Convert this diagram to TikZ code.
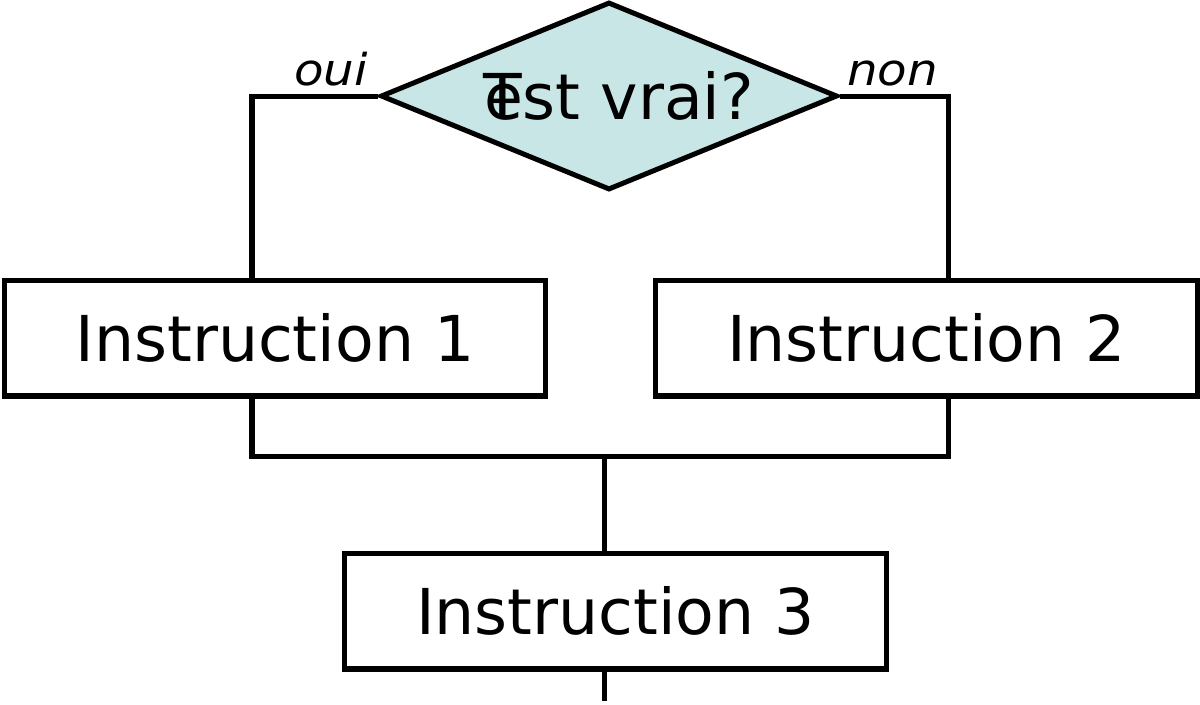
\documentclass[tikz,border=0pt]{standalone}
\usepackage{fontspec}
\setmainfont{DejaVu Sans}
\newfontfamily\branchfont[FakeStretch=1.1]{DejaVu Sans Oblique}
\usepackage{tikz}
\usetikzlibrary{shapes.geometric}
\definecolor{testfill}{RGB}{200,230,230}

\begin{document}
\begin{tikzpicture}[x=0.02cm, y=-0.02cm,
		instr/.style={draw, line width=2.85pt, minimum width=10.84cm, minimum height=2.32cm, inner sep=0pt, font=\fontsize{36}{43}\selectfont},
		branch/.style={anchor=base west, inner sep=0pt, font=\branchfont\fontsize{25}{30}\selectfont},
		wire/.style={line width=2.85pt}]
			%%%%% START %%%%%
			
			\useasboundingbox (0, 0) rectangle (1200, 704);
			
			\node[diamond, draw, fill=testfill, line width=2.85pt, aspect=2.43, minimum width=9.14cm, minimum height=3.76cm, inner sep=0pt, font=\fontsize{36}{43}\selectfont] (test) at (609, 96) {\hspace*{0.4cm}\rlap{T}est vrai?};
			\node[branch] (oui) at (294, 85) {oui};
			\node[branch] (non) at (847, 85) {non};
			
			\node[instr] (instrA) at (275, 338) {Instruction 1};
			\node[instr] (instrB) at (926.5, 338) {Instruction 2};
			\node[instr] (instrC) at (615.5, 611) {Instruction 3};
			
			\coordinate (ouiIn) at (252, 280);
			\coordinate (nonIn) at (948, 280);
			\coordinate (ouiOut) at (252, 396);
			\coordinate (nonOut) at (948, 396);
			\coordinate (merge) at (604, 456);
			\coordinate (mergeIn) at (604, 553);
			\coordinate (mergeOut) at (604, 669);
			\coordinate (after) at (604, 701);
			
			\draw[wire] (test.west) -| (ouiIn);
			\draw[wire] (test.east) -| (nonIn);
			\draw[wire] (ouiOut) |- (merge) -| (nonOut);
			\draw[wire] (merge) -- (mergeIn);
			\draw[wire] (mergeOut) -- (after);
			
			%%%%% END %%%%%
\end{tikzpicture}
\end{document}
